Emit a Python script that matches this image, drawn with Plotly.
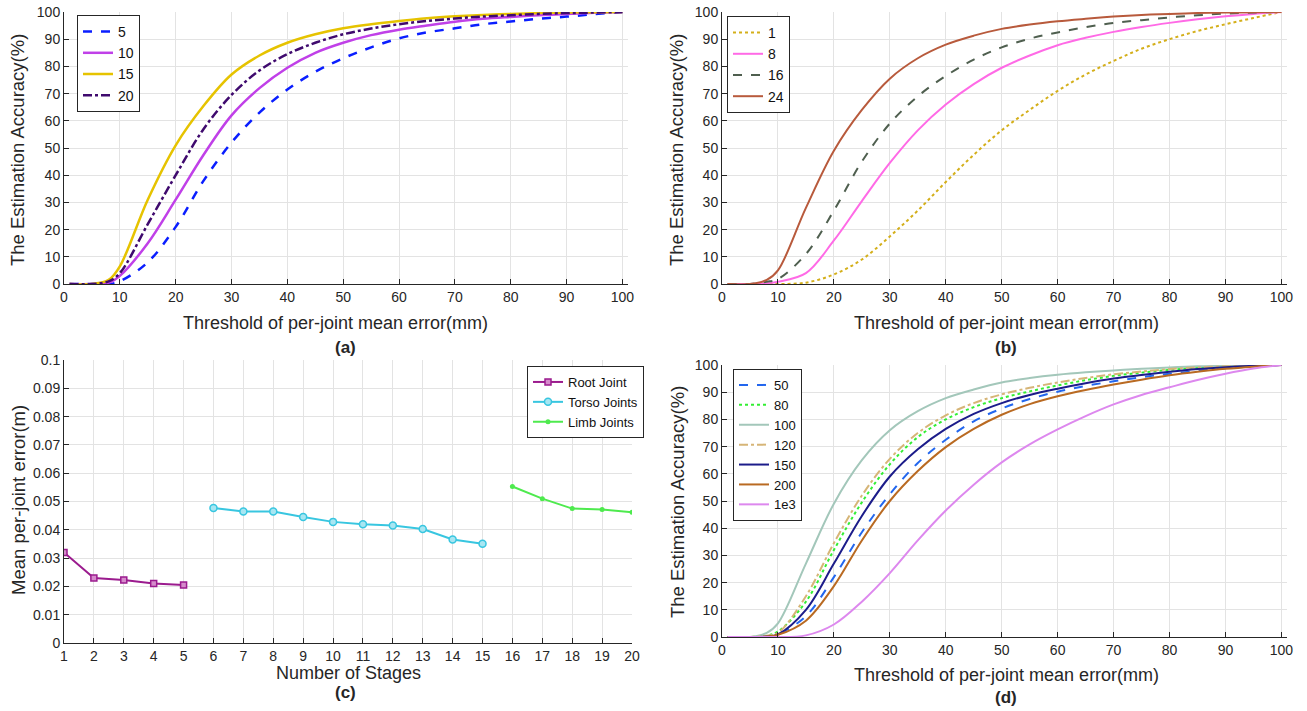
import plotly.graph_objects as go

# ---------------- data ----------------
thr = [1, 5, 8, 10, 15, 20, 25, 30, 35, 40, 45, 50, 55, 60, 65, 70, 75, 80, 85, 90, 95, 100]

# (a)
a_names = ["5", "10", "15", "20"]
a_5 = [0, 0, 0, 1, 8, 21, 38, 52, 63, 71.5, 78, 83, 87, 90.3, 92.5, 94, 95.5, 96.5, 97.5, 98.3, 99.2, 100]
a_10 = [0, 0, 0.5, 3, 15, 31, 47.5, 62, 72, 79.5, 85, 88.7, 91.5, 93.5, 95, 96.4, 97.5, 98.2, 98.8, 99.3, 99.7, 100]
a_15 = [0, 0, 1.5, 6.5, 31, 51, 65.5, 77, 84, 88.7, 91.8, 94, 95.5, 96.7, 97.7, 98.4, 98.9, 99.3, 99.6, 99.8, 99.9, 100]
a_20 = [0, 0, 1, 4, 22, 40, 57, 69.5, 78.5, 84.5, 88.7, 91.8, 93.9, 95.5, 96.7, 97.6, 98.3, 98.8, 99.3, 99.6, 99.8, 100]

# (b)
b_names = ["1", "8", "16", "24"]
b_1 = [0, 0, 0, 0, 0.5, 3.5, 9, 17.5, 27, 37.5, 47.5, 56.5, 64, 71, 77, 82, 86.5, 90, 93, 95.5, 97.8, 100]
b_8 = [0, 0, 0.3, 0.8, 4, 16, 30.5, 44.5, 56.5, 66, 73.5, 79.5, 84, 87.8, 90.5, 92.7, 94.5, 96, 97.3, 98.4, 99.3, 100]
b_16 = [0, 0, 0.8, 1.8, 11, 27, 45, 59, 69, 76.5, 82.5, 87, 90.2, 92.5, 94.4, 96, 97, 98, 98.8, 99.4, 99.8, 100]
b_24 = [0, 0, 1.5, 5, 28, 49, 64, 75.5, 83, 88, 91.3, 93.8, 95.4, 96.6, 97.5, 98.3, 98.9, 99.3, 99.6, 99.8, 99.9, 100]

# (c)
root_x = [1, 2, 3, 4, 5]
root_y = [0.032, 0.023, 0.0223, 0.021, 0.0205]
torso_x = [6, 7, 8, 9, 10, 11, 12, 13, 14, 15]
torso_y = [0.0477, 0.0465, 0.0465, 0.0445, 0.0428, 0.042, 0.0415, 0.0403, 0.0366, 0.0351]
limb_x = [16, 17, 18, 19, 20]
limb_y = [0.0553, 0.051, 0.0475, 0.0472, 0.0462]
c_ticks_y = [0, 0.01, 0.02, 0.03, 0.04, 0.05, 0.06, 0.07, 0.08, 0.09, 0.1]
c_ticks_y_text = ["0", "0.01", "0.02", "0.03", "0.04", "0.05", "0.06", "0.07", "0.08", "0.09", "0.1"]

# (d)
d_names = ["50", "80", "100", "120", "150", "200", "1e3"]
d_50 = [0, 0, 0.3, 1, 7.7, 22, 38.5, 52.5, 64, 72.5, 79.3, 84, 87.5, 90.2, 92.3, 94, 95.5, 96.8, 97.8, 98.8, 99.5, 100]
d_80 = [0, 0, 0.5, 2, 13, 32, 49.5, 63.5, 73.5, 80, 84.5, 87.8, 90.3, 92.5, 94.4, 96, 97.2, 98.2, 99, 99.5, 99.8, 100]
d_100 = [0, 0, 1.5, 5, 27, 49, 65, 76, 83, 87.8, 91, 93.6, 95.2, 96.4, 97.3, 98, 98.6, 99.1, 99.5, 99.7, 99.9, 100]
d_120 = [0, 0, 0.5, 1.5, 15, 34.5, 52, 65.5, 75, 81.5, 86, 89.2, 91.6, 93.6, 95.2, 96.6, 97.6, 98.5, 99.1, 99.5, 99.8, 100]
d_150 = [0, 0, 0.2, 1, 10, 27, 44.5, 59, 69, 76.5, 82, 86, 89, 91.3, 93.3, 95, 96.3, 97.5, 98.5, 99.2, 99.7, 100]
d_200 = [0, 0, 0.2, 0.8, 6, 18.7, 35.5, 50, 61, 69.8, 76.5, 81.7, 85.6, 88.5, 90.8, 92.8, 94.6, 96.2, 97.5, 98.6, 99.4, 100]
d_1e3 = [0, 0, 0, 0, 0.6, 4.6, 13, 23.5, 35.5, 46.5, 56, 64.2, 70.8, 76.3, 81.2, 85.5, 89, 91.8, 94.5, 96.8, 98.7, 100]

acc_ticks = [0, 10, 20, 30, 40, 50, 60, 70, 80, 90, 100]
stage_ticks = list(range(1, 21))

# ---------------- figure ----------------
W, H = 1307, 711
FONT = "Liberation Sans, Arial, sans-serif"
TXT = "#262626"

fig = go.Figure()


def curve(x, y, name, color, dash, width, xa, ya, legend):
    fig.add_trace(go.Scatter(
        x=x, y=y, name=name, mode="lines",
        line=dict(color=color, dash=dash, width=width, shape="spline", smoothing=1.0),
        xaxis=xa, yaxis=ya, legend=legend))


a_series = [a_5, a_10, a_15, a_20]
a_colors = ["#0A1EFF", "#C040E8", "#E6C300", "#3F0A6E"]
a_dash = ["dash", "solid", "solid", "dashdot"]
for nm, ys, c, d in zip(a_names, a_series, a_colors, a_dash):
    curve(thr, ys, nm, c, d, 2.5, "x", "y", "legend")

b_series = [b_1, b_8, b_16, b_24]
b_colors = ["#D4AF1A", "#FF6AE6", "#4F5F4F", "#B85A3C"]
b_dash = ["dot", "solid", "dash", "solid"]
for nm, ys, c, d in zip(b_names, b_series, b_colors, b_dash):
    curve(thr, ys, nm, c, d, 2, "x2", "y2", "legend2")

d_series = [d_50, d_80, d_100, d_120, d_150, d_200, d_1e3]
d_colors = ["#2266EE", "#33EE33", "#A3C7BA", "#D6B577", "#1C1C8A", "#B96A22", "#DD88EE"]
d_dash = ["dash", "dot", "solid", "dashdot", "solid", "solid", "solid"]
for nm, ys, c, d in zip(d_names, d_series, d_colors, d_dash):
    curve(thr, ys, nm, c, d, 2, "x4", "y4", "legend4")

fig.add_trace(go.Scatter(x=root_x, y=root_y, name="Root Joint", mode="lines+markers",
                         line=dict(color="#9B1B8E", width=2),
                         marker=dict(symbol="square", size=6, color="#D58BCB",
                                     line=dict(color="#9B1B8E", width=1.5)),
                         xaxis="x3", yaxis="y3", legend="legend3"))
fig.add_trace(go.Scatter(x=torso_x, y=torso_y, name="Torso Joints", mode="lines+markers",
                         line=dict(color="#38C6E0", width=2),
                         marker=dict(symbol="circle", size=7, color="#A8E6F2",
                                     line=dict(color="#38C6E0", width=1.5)),
                         xaxis="x3", yaxis="y3", legend="legend3"))
fig.add_trace(go.Scatter(x=limb_x, y=limb_y, name="Limb Joints", mode="lines+markers",
                         line=dict(color="#4EEA4E", width=2),
                         marker=dict(symbol="circle", size=5, color="#4EEA4E"),
                         xaxis="x3", yaxis="y3", legend="legend3"))


def px_x(a, b):
    return [a / W, b / W]


def px_y(top, bottom):
    return [(H - bottom) / H, (H - top) / H]


axis_common = dict(
    showline=True, linecolor=TXT, linewidth=1, mirror=False, automargin=False,
    ticks="inside", ticklen=5, tickcolor=TXT, tickwidth=1,
    showgrid=True, gridcolor="#E3E3E3", gridwidth=1, zeroline=False,
    tickfont=dict(family=FONT, size=14, color=TXT),
)

layout_axes = dict(
    xaxis=dict(domain=px_x(64, 628), range=[0, 101], tickvals=acc_ticks, anchor="y", **axis_common),
    yaxis=dict(domain=px_y(12, 284), range=[0, 100], tickvals=acc_ticks, anchor="x", **axis_common),
    xaxis2=dict(domain=px_x(722, 1287), range=[0, 101], tickvals=acc_ticks, anchor="y2", **axis_common),
    yaxis2=dict(domain=px_y(12, 284), range=[0, 100], tickvals=acc_ticks, anchor="x2", **axis_common),
    xaxis3=dict(domain=px_x(64, 632), range=[1, 20], tickvals=stage_ticks, anchor="y3", **axis_common),
    yaxis3=dict(domain=px_y(360, 643), range=[0, 0.1], tickvals=c_ticks_y, ticktext=c_ticks_y_text,
                anchor="x3", **axis_common),
    xaxis4=dict(domain=px_x(722, 1287), range=[0, 101], tickvals=acc_ticks, anchor="y4", **axis_common),
    yaxis4=dict(domain=px_y(365, 637), range=[0, 100], tickvals=acc_ticks, anchor="x4", **axis_common),
)


def leg(x, y, size=14):
    return dict(x=x / W, y=(H - y) / H, xanchor="left", yanchor="top",
                bgcolor="white", bordercolor=TXT, borderwidth=1,
                font=dict(family=FONT, size=size, color="#111111"),
                itemwidth=30, tracegroupgap=0)


fig.update_layout(
    width=W, height=H, margin=dict(l=0, r=0, t=0, b=0, autoexpand=False),
    paper_bgcolor="white", plot_bgcolor="white",
    font=dict(family=FONT, color=TXT),
    showlegend=True,
    legend=leg(77, 15, 14),
    legend2=leg(727, 16, 14),
    legend3=leg(527, 366, 13),
    legend4=leg(733, 369, 13),
    **layout_axes,
)

annos = []
xt = "Threshold of per-joint mean error(mm)"
yt = "The Estimation Accuracy(%)"
for cx, cy, txt in [(335, 323, xt), (1006, 323, xt), (348, 673, "Number of Stages"), (1006, 675, xt)]:
    annos.append(dict(x=cx / W, y=(H - cy) / H, xref="paper", yref="paper", text=txt, showarrow=False,
                      font=dict(family=FONT, size=18, color=TXT), xanchor="center", yanchor="middle"))
for cx, cy, txt in [(18, 150, yt), (677, 150, yt), (18, 500, "Mean per-joint error(m)"), (677, 502, yt)]:
    annos.append(dict(x=cx / W, y=(H - cy) / H, xref="paper", yref="paper", text=txt, showarrow=False,
                      textangle=-90, font=dict(family=FONT, size=18.5, color=TXT),
                      xanchor="center", yanchor="middle"))
for cx, cy, txt in [(345, 347, "(a)"), (1006, 347, "(b)"), (345, 692, "(c)"), (1006, 697, "(d)")]:
    annos.append(dict(x=cx / W, y=(H - cy) / H, xref="paper", yref="paper", text="<b>" + txt + "</b>",
                      showarrow=False, font=dict(family=FONT, size=17, color=TXT),
                      xanchor="center", yanchor="middle"))
fig.update_layout(annotations=annos)

fig.write_html("out.html", config={"displayModeBar": False},
               post_script="document.body.style.margin='0px';document.body.style.overflow='hidden';")
